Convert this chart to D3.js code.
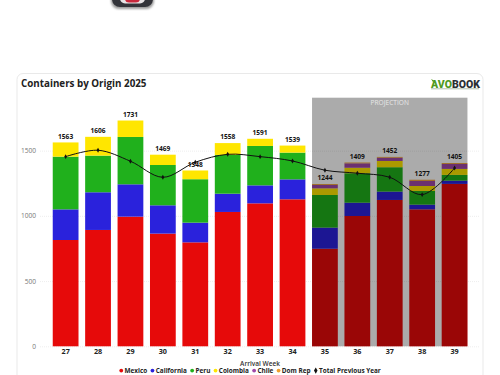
<!DOCTYPE html>
<html>
<head>
<meta charset="utf-8">
<script src="https://cdnjs.cloudflare.com/ajax/libs/d3/7.8.5/d3.min.js"></script>
<style>
	html, body { margin: 0; padding: 0; background: #fff; overflow: hidden; }
	svg { display: block; font-family: "Open Sans", sans-serif; }
</style>
</head>
<body>
<div id="chart"></div>
<script>
var weeks = ["27", "28", "29", "30", "31", "32", "33", "34", "35", "36", "37", "38", "39"];
var projectedWeeks = ["35", "36", "37", "38", "39"];
var mexico = [815, 892, 994, 864, 797, 1030, 1096, 1127, 748, 999, 1122, 1050, 1245];
var california = [235, 289, 248, 217, 151, 140, 138, 153, 162, 102, 64, 36, 25];
var peru = [404, 281, 363, 309, 333, 297, 302, 205, 250, 226, 187, 105, 44];
var colombia = [109, 144, 126, 79, 67, 91, 55, 54, 51, 42, 48, 38, 46];
var chile = [0, 0, 0, 0, 0, 0, 0, 0, 26, 34, 25, 39, 38];
var domRep = [0, 0, 0, 0, 0, 0, 0, 0, 7, 6, 6, 9, 7];
var totals = [1563, 1606, 1731, 1469, 1348, 1558, 1591, 1539, 1244, 1409, 1452, 1277, 1405];
var previousYear = [1454, 1503, 1419, 1296, 1411, 1472, 1454, 1421, 1350, 1327, 1296, 1163, 1367];
var yTicks = [0, 500, 1000, 1500];
var seriesNames = ["Mexico", "California", "Peru", "Colombia", "Chile", "Dom Rep"];
var seriesColours = ["#e60a0a", "#2a22dc", "#20b01c", "#ffe600", "#a048a8", "#f0a030"];
var lineName = "Total Previous Year";

function init() {
	var w = 500;
	var h = 375;

	var svg = d3.select("#chart")
		.append("svg")
		.attr("width", w)
		.attr("height", h);

	// phone icon cut off by the top edge of the picture
	var blur = svg.append("defs").append("filter").attr("id", "soft");
	blur.append("feGaussianBlur").attr("stdDeviation", 1);
	svg.append("rect").attr("x", 111).attr("y", -30).attr("width", 43).attr("height", 39)
		.attr("rx", 8).attr("fill", "#999").attr("filter", "url(#soft)");
	svg.append("rect").attr("x", 112).attr("y", -30).attr("width", 41).attr("height", 37)
		.attr("rx", 8).attr("fill", "#33343a");
	svg.append("rect").attr("x", 120).attr("y", -20).attr("width", 25).attr("height", 23.5)
		.attr("rx", 5).attr("fill", "#e8e4e6");
	svg.append("rect").attr("x", 125).attr("y", -10).attr("width", 15).attr("height", 12.5)
		.attr("rx", 4).attr("fill", "#c8283c");

	// card
	svg.append("rect")
		.attr("x", 17)
		.attr("y", 73.5)
		.attr("width", 466)
		.attr("height", 330)
		.attr("rx", 6)
		.attr("fill", "#fff")
		.attr("stroke", "#e9e9e9");

	svg.append("text")
		.attr("x", 21)
		.attr("y", 87)
		.attr("font-size", 9.8)
		.attr("font-weight", 700)
		.attr("fill", "#222")
		.text("Containers by Origin 2025");

	// logo
	var logo = svg.append("text")
		.attr("x", 431)
		.attr("y", 87.5)
		.attr("font-family", "Roboto, sans-serif")
		.attr("font-size", 10.5)
		.attr("font-weight", 900);
	logo.append("tspan").attr("fill", "#4f9a1e").text("AVO");
	logo.append("tspan").attr("fill", "#2b2f33").text("BOOK");
	svg.append("path")
		.attr("d", "M431 79l4 2l-2 1z")
		.attr("fill", "#4f9a1e");
	svg.append("line")
		.attr("x1", 431).attr("x2", 479)
		.attr("y1", 88.8).attr("y2", 88.8)
		.attr("stroke", "#5a7a50")
		.attr("stroke-width", 0.8)
		.attr("opacity", 0.6);

	var x = d3.scaleBand()
		.domain(weeks)
		.range([49.5, 470.7])
		.paddingInner(0.205)
		.paddingOuter(0.1);

	var y = d3.scaleLinear()
		.domain([0, 1906])
		.range([346.3, 97.7]);

	var yAxis = d3.axisLeft(y)
		.tickValues(yTicks)
		.tickFormat(d3.format("d"))
		.tickSize(-440)
		.tickPadding(4);

	svg.append("g")
		.attr("transform", "translate(40,0)")
		.call(yAxis)
		.call(g => g.selectAll(".domain").remove())
		.call(g => g.selectAll("line").attr("stroke", "#e6e6e6").attr("stroke-width", 0.7).attr("stroke-dasharray", "1,1"))
		.call(g => g.selectAll("text").attr("font-family", "'Open Sans', sans-serif").attr("font-size", 6.6).attr("fill", "#777"));

	var table = weeks.map(function(week, i) {
		return { week: week, Mexico: mexico[i], California: california[i], Peru: peru[i],
			Colombia: colombia[i], Chile: chile[i], "Dom Rep": domRep[i] };
	});

	var colour = d3.scaleOrdinal()
		.domain(seriesNames)
		.range(seriesColours);

	var stacked = d3.stack().keys(seriesNames)(table);

	svg.append("g")
		.selectAll("g")
		.data(stacked)
		.join("g")
			.attr("fill", d => colour(d.key))
		.selectAll("rect")
		.data(d => d)
		.join("rect")
			.attr("x", d => x(d.data.week))
			.attr("y", d => y(d[1]))
			.attr("width", x.bandwidth())
			.attr("height", d => y(d[0]) - y(d[1]));

	// projection band darkens whatever sits below it
	var bandLeft = x(projectedWeeks[0]);
	var bandRight = x(projectedWeeks[projectedWeeks.length - 1]) + x.bandwidth();
	svg.append("rect")
		.attr("x", bandLeft)
		.attr("y", y.range()[1])
		.attr("width", bandRight - bandLeft)
		.attr("height", y.range()[0] - y.range()[1])
		.attr("fill", "rgba(0,0,0,0.33)");

	svg.append("text")
		.attr("x", (bandLeft + bandRight) / 2)
		.attr("y", 105)
		.attr("text-anchor", "middle")
		.attr("font-size", 6.6)
		.attr("fill", "#e8e8e8")
		.text("PROJECTION");

	var line = d3.line()
		.x((d, i) => x(weeks[i]) + x.bandwidth() / 2)
		.y(d => y(d))
		.curve(d3.curveCatmullRom.alpha(0.5));

	svg.append("path")
		.datum(previousYear)
		.attr("d", line)
		.attr("fill", "none")
		.attr("stroke", "#111")
		.attr("stroke-width", 1);

	svg.append("g")
		.selectAll("path")
		.data(previousYear)
		.join("path")
			.attr("d", d3.symbol(d3.symbolDiamond, 7))
			.attr("transform", (d, i) => `translate(${x(weeks[i]) + x.bandwidth() / 2},${y(d)})`)
			.attr("fill", "#111");

	svg.append("g")
		.selectAll("text")
		.data(totals)
		.join("text")
			.attr("x", (d, i) => x(weeks[i]) + x.bandwidth() / 2)
			.attr("y", d => y(d) - 3.8)
			.attr("text-anchor", "middle")
			.attr("font-size", 6.6)
			.attr("font-weight", 700)
			.attr("fill", "#111")
			.text(d => d);

	svg.append("g")
		.attr("transform", "translate(0,346.3)")
		.call(d3.axisBottom(x).tickSize(0).tickPadding(3))
		.call(g => g.selectAll(".domain").remove())
		.call(g => g.selectAll("text").attr("font-family", "'Open Sans', sans-serif").attr("font-size", 7.2).attr("font-weight", 700).attr("fill", "#222"));

	svg.append("text")
		.attr("x", 260)
		.attr("y", 365.5)
		.attr("text-anchor", "middle")
		.attr("font-size", 6.5)
		.attr("font-weight", 600)
		.attr("fill", "#333")
		.text("Arrival Week");

	// legend, laid out from the measured text widths
	var legendNames = seriesNames.concat([lineName]);
	var legend = svg.append("g");
	var cursor = 0;
	legendNames.forEach(function(name, i) {
		var item = legend.append("g").attr("transform", `translate(${cursor},0)`);
		if (name === lineName) {
			item.append("path")
				.attr("d", d3.symbol(d3.symbolDiamond, 11))
				.attr("transform", "translate(2,-2.4)")
				.attr("fill", "#111");
		} else {
			item.append("circle")
				.attr("cx", 2)
				.attr("cy", -2.4)
				.attr("r", 1.9)
				.attr("fill", colour(name));
		}
		var label = item.append("text")
			.attr("x", 5.3)
			.attr("font-size", 6.4)
			.attr("font-weight", 700)
			.attr("fill", "#222")
			.text(name);
		cursor += 5.3 + label.node().getComputedTextLength() + 3.2;
	});
	legend.attr("transform", `translate(${250 - (cursor - 3.2) / 2},373)`);
}

window.onload = init;
</script>
</body>
</html>
